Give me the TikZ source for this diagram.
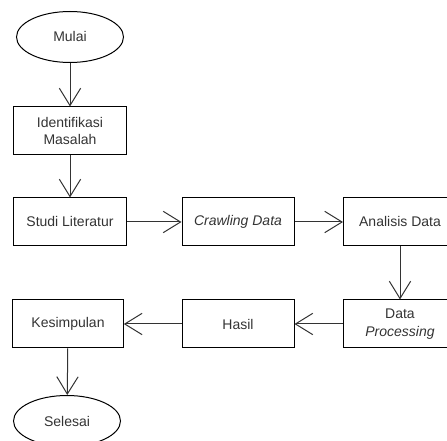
\documentclass[tikz,border=0pt]{standalone}
\usepackage{fontspec}
\setmainfont{Liberation Sans}
\usetikzlibrary{arrows.meta,shapes.geometric}

\begin{document}
\begin{tikzpicture}[x=0.75pt,y=-0.75pt,line width=0.75pt,
  box/.style={draw, rectangle, minimum width=84.75pt, minimum height=36pt, inner sep=1pt, align=center, font=\fontsize{10.5}{13}\selectfont, text=black!80},
  term/.style={draw, ellipse, minimum width=80.25pt, minimum height=38.25pt, inner sep=0pt, font=\fontsize{10.5}{13}\selectfont, text=black!80},
  flow/.style={-{Straight Barb[length=13pt,width=16pt,line width=0.75pt]}, draw=black!80}]
\useasboundingbox (0,0) rectangle (447,441);
\clip (0,0) rectangle (447,441);
\node[term] (mulai) at (70,37) {Mulai};
\node[box] (ident) at (70,131) {Identifikasi\\Masalah};
\node[box] (studi) at (70,222) {Studi Literatur};
\node[box, minimum width=84pt] (crawl) at (238,222) {\itshape Crawling Data};
\node[box] (anal) at (400,222) {Analisis Data};
\node[box] (proc) at (400,324) {Data\\\itshape Processing};
\node[box, minimum width=84pt] (hasil) at (238,324) {Hasil};
\node[box, minimum width=83pt] (kesim) at (68,324) {Kesimpulan};
\node[term] (selesai) at (67,421) {Selesai};
\draw[flow] (mulai) -- (ident);
\draw[flow] (ident) -- (studi);
\draw[flow] (studi) -- (crawl);
\draw[flow] (crawl) -- (anal);
\draw[flow] (anal) -- (proc);
\draw[flow] (proc) -- (hasil);
\draw[flow] (hasil) -- (kesim);
\draw[flow] (kesim) -- (selesai);
\end{tikzpicture}
\end{document}
